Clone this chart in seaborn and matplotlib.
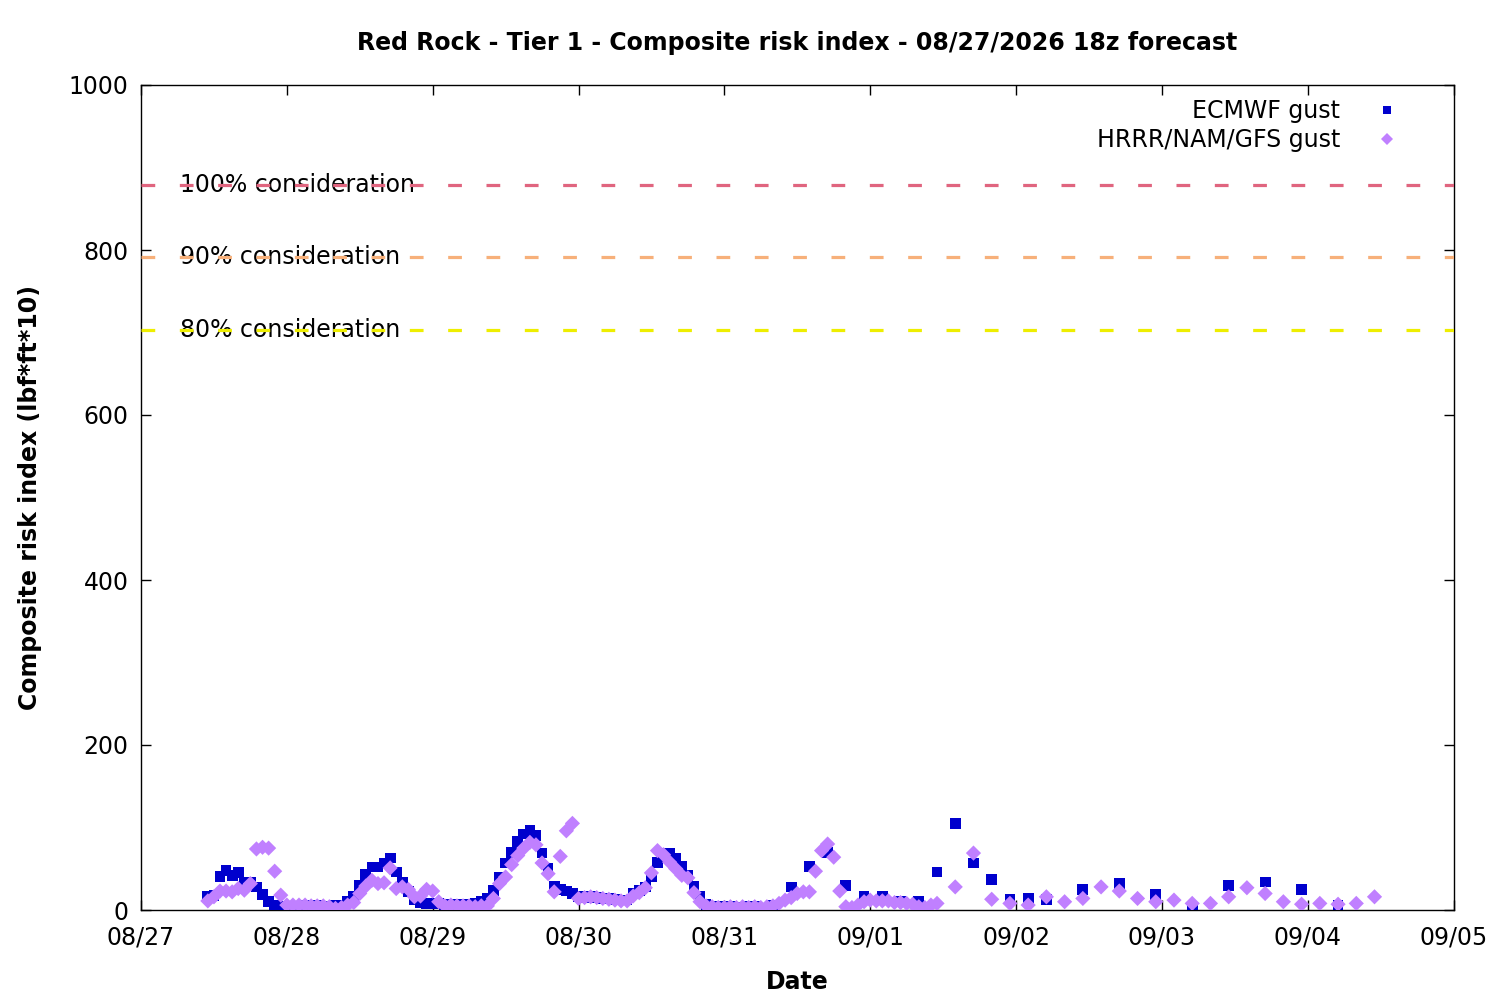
import pandas as pd
import matplotlib
matplotlib.use("Agg")
import matplotlib.pyplot as plt
import matplotlib.dates as mdates
import matplotlib.transforms as mtransforms
import seaborn as sns

# -----------------------------------
# Data
# -----------------------------------
# ECMWF: hourly from 08/27 11:00 to 08/31 04:00
ecmwf_hourly = [
    16, 18, 41, 48, 42, 45, 34, 33, 28, 19,
    10, 5, 4, 4, 4, 4, 5, 5, 5, 4,
    4, 5, 6, 10, 16, 30, 43, 52, 52, 57,
    63, 46, 34, 22, 12, 9, 8, 8, 8, 7,
    7, 7, 7, 7, 8, 10, 14, 24, 39, 57,
    70, 83, 92, 96, 90, 69, 51, 29, 25, 23,
    20, 16, 15, 16, 15, 14, 14, 13, 12, 12,
    20, 24, 28, 40, 58, 69, 69, 63, 53, 42,
    29, 16, 7, 4, 3, 4, 4, 3, 3, 4,
]
# ECMWF: 3-hourly from 08/31 05:00 to 09/02 05:00
ecmwf_3h = [4, 6, 28, 53, 70, 30, 16, 17, 11, 11, 46, 105, 57, 37, 13, 14, 13]
# ECMWF: 6-hourly from 09/02 11:00 to 09/04 05:00
ecmwf_6h = [25, 32, 19, 3, 30, 34, 25, 6]

# HRRR/NAM/GFS: hourly from 08/27 11:00 to 09/01 11:00
hrrr_hourly = [
    11, 16, 23, 23, 22, 26, 24, 32, 74, 76,
    75, 47, 18, 6, 6, 6, 6, 5, 5, 5,
    4, 2, 3, 6, 9, 20, 29, 36, 32, 33,
    51, 26, 28, 25, 16, 17, 25, 23, 10, 5,
    6, 5, 5, 5, 4, 5, 5, 14, 32, 40,
    55, 66, 75, 82, 79, 57, 44, 22, 65, 96,
    105, 14, 15, 16, 15, 14, 13, 12, 11, 11,
    17, 21, 27, 45, 72, 67, 58, 50, 42, 39,
    21, 10, 5, 4, 3, 3, 4, 3, 4, 3,
    4, 3, 4, 5, 8, 12, 15, 20, 22, 22,
    47, 72, 80, 64, 23, 4, 3, 6, 10, 12,
    11, 11, 11, 9, 9, 8, 7, 4, 3, 6, 8,
]
# HRRR/NAM/GFS: 3-hourly from 09/01 14:00 to 09/04 11:00
hrrr_3h = [28, 69, 13, 8, 6, 16, 10, 14, 28, 23, 14, 10,
           12, 8, 8, 16, 27, 20, 10, 7, 8, 7, 8, 16]

thresholds = [879, 791, 703]
threshold_labels = ["100% consideration", "90% consideration", "80% consideration"]
threshold_colors = ["#e0657f", "#f7b07a", "#eeee00"]

series_names = ["ECMWF gust", "HRRR/NAM/GFS gust"]


def times(start, n, step):
    return pd.date_range(start, periods=n, freq=step)


ecmwf_t = (times("2026-08-27 11:00", len(ecmwf_hourly), "1h")
           .append(times("2026-08-31 05:00", len(ecmwf_3h), "3h"))
           .append(times("2026-09-02 11:00", len(ecmwf_6h), "6h")))
hrrr_t = (times("2026-08-27 11:00", len(hrrr_hourly), "1h")
          .append(times("2026-09-01 14:00", len(hrrr_3h), "3h")))

df = pd.concat([
    pd.DataFrame({"Date": ecmwf_t, "risk": ecmwf_hourly + ecmwf_3h + ecmwf_6h,
                  "model": series_names[0]}),
    pd.DataFrame({"Date": hrrr_t, "risk": hrrr_hourly + hrrr_3h,
                  "model": series_names[1]}),
], ignore_index=True)

# -----------------------------------
# Style
# -----------------------------------
sns.set_style("ticks", {"xtick.direction": "in", "ytick.direction": "in"})
plt.rcParams["font.family"] = ["DejaVu Sans"]
plt.rcParams["text.color"] = "black"
plt.rcParams["axes.labelcolor"] = "black"
plt.rcParams["xtick.color"] = "black"
plt.rcParams["ytick.color"] = "black"
plt.rcParams["axes.edgecolor"] = "black"

fig, ax = plt.subplots(figsize=(15, 10), dpi=100)
fig.subplots_adjust(left=0.094, right=0.969, top=0.915, bottom=0.09)

sns.scatterplot(
    data=df, x="Date", y="risk",
    hue="model", style="model",
    hue_order=series_names, style_order=series_names,
    palette={series_names[0]: "#0000cd", series_names[1]: "#c080ff"},
    markers={series_names[0]: "s", series_names[1]: "D"},
    s=60, linewidth=0, ax=ax, zorder=4,
)

# threshold lines
trans = mtransforms.blended_transform_factory(ax.transAxes, ax.transData)
for y, lab, col in zip(thresholds, threshold_labels, threshold_colors):
    ax.axhline(y, color=col, lw=2.3, ls=(0, (4.3, 7.7)), zorder=3)
    ax.text(0.0297, y, lab, transform=trans, fontsize=17, va="center",
            ha="left", zorder=2)

ax.set_xlim(pd.Timestamp("2026-08-27"), pd.Timestamp("2026-09-05"))
ax.set_ylim(0, 1000)
ax.set_yticks(range(0, 1001, 200))
ax.xaxis.set_major_locator(mdates.DayLocator())
ax.xaxis.set_major_formatter(mdates.DateFormatter("%m/%d"))

for side in ["top", "right", "left", "bottom"]:
    ax.spines[side].set_visible(True)
    ax.spines[side].set_linewidth(1.0)
ax.tick_params(axis="both", which="major", direction="in", length=7, width=1,
               labelsize=17, top=True, right=True)
ax.tick_params(axis="x", pad=11)
ax.tick_params(axis="y", pad=9)

ax.set_title("Red Rock - Tier 1 - Composite risk index - 08/27/2026 18z forecast",
             fontsize=17, fontweight="bold", pad=25)
ax.set_xlabel("Date", fontsize=17, fontweight="bold", labelpad=15)
ax.set_ylabel("Composite risk index (lbf*ft*10)", fontsize=17,
              fontweight="bold", labelpad=19)

ax.legend(loc="upper right", bbox_to_anchor=(0.98, 1.003), frameon=False,
          fontsize=17, markerfirst=False, handletextpad=1.0,
          labelspacing=0.2, borderaxespad=0.3, markerscale=0.8, title=None)

plt.savefig("out.png", dpi=100)
